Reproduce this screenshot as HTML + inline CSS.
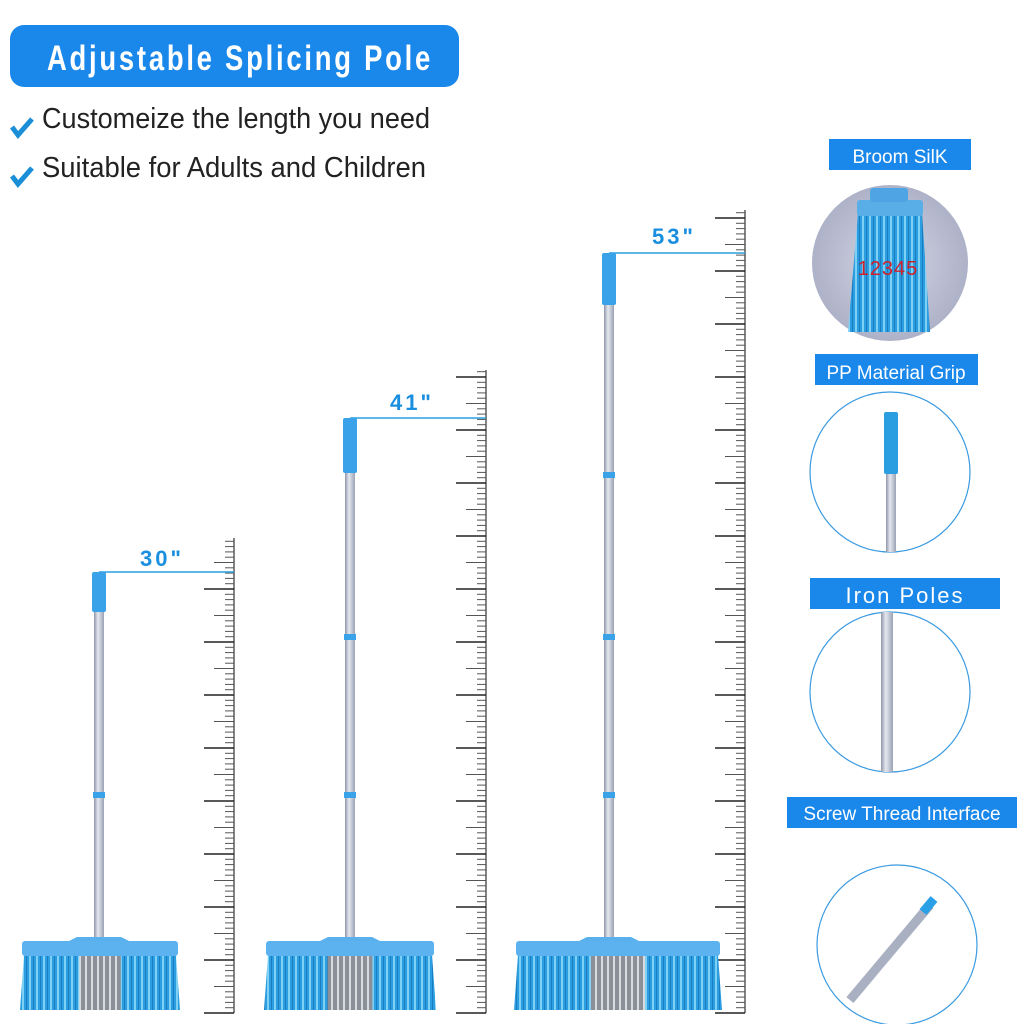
<!DOCTYPE html>
<html><head><meta charset="utf-8"><style>
body{margin:0;background:#fff;}
svg{display:block;}
text{font-family:"Liberation Sans",sans-serif;}
</style></head><body>
<svg id="s" width="1024" height="1024" viewBox="0 0 1024 1024" xmlns="http://www.w3.org/2000/svg">
<defs>
<linearGradient id="pole" x1="0" x2="1"><stop offset="0" stop-color="#8f96a8"/><stop offset="0.4" stop-color="#e4e8f0"/><stop offset="1" stop-color="#9aa2b4"/></linearGradient>
<pattern id="br" width="7" height="60" patternUnits="userSpaceOnUse"><rect width="7" height="60" fill="#2a9ee0"/><rect x="1" width="2" height="60" fill="#7fd0f5"/><rect x="5" width="1" height="60" fill="#1b7cc0"/></pattern>
<pattern id="bg" width="6" height="60" patternUnits="userSpaceOnUse"><rect width="6" height="60" fill="#8a8f98"/><rect x="1" width="2" height="60" fill="#d8dbe0"/></pattern>
<radialGradient id="c1"><stop offset="0" stop-color="#d4d6e4"/><stop offset="1" stop-color="#aeb2c8"/></radialGradient>
</defs>
<!-- header -->
<rect x="10" y="25" width="449" height="62" rx="14" fill="#1a87ea"/>
<text x="240" y="70" text-anchor="middle" font-size="35" font-weight="bold" fill="#fff" letter-spacing="3.5" textLength="386" lengthAdjust="spacingAndGlyphs">Adjustable Splicing Pole</text>
<path d="M12 127 l6 8 l14 -16" stroke="#1a8fd8" stroke-width="5" fill="none"/>
<path d="M12 176 l6 8 l14 -16" stroke="#1a8fd8" stroke-width="5" fill="none"/>
<text x="42" y="128" font-size="29" fill="#222" textLength="388" lengthAdjust="spacingAndGlyphs">Customeize the length you need</text>
<text x="42" y="177" font-size="29" fill="#222" textLength="384" lengthAdjust="spacingAndGlyphs">Suitable for Adults and Children</text>
<g id="rulers"></g>
<g id="brooms"></g>
<!-- right column -->
<rect x="829" y="139" width="142" height="31" fill="#1a87ea"/>
<text x="900" y="163" text-anchor="middle" font-size="19" fill="#fff">Broom SilK</text>
<circle cx="890" cy="263" r="78" fill="url(#c1)"/>
<path d="M858 213 L922 213 L930 332 L848 332 Z" fill="url(#br)"/>
<rect x="857" y="200" width="66" height="16" rx="3" fill="#5aaee8"/>
<rect x="870" y="188" width="38" height="14" rx="3" fill="#4fa4e4"/>
<text x="888" y="275" text-anchor="middle" font-size="20" fill="#d0202a" letter-spacing="1">12345</text>
<rect x="815" y="354" width="163" height="31" fill="#1a87ea"/>
<text x="896" y="379" text-anchor="middle" font-size="19" fill="#fff">PP Material Grip</text>
<circle cx="890" cy="472" r="80" fill="none" stroke="#3a9ae0" stroke-width="1.2"/>
<rect x="886" y="470" width="10" height="82" fill="url(#pole)"/>
<rect x="884" y="412" width="14" height="62" rx="2" fill="#2a9ee0"/>
<rect x="810" y="578" width="190" height="31" fill="#1a87ea"/>
<text x="905" y="603" text-anchor="middle" font-size="22" fill="#fff" letter-spacing="2">Iron Poles</text>
<circle cx="890" cy="692" r="80" fill="none" stroke="#3a9ae0" stroke-width="1.2"/>
<rect x="881" y="612" width="12" height="160" fill="url(#pole)"/>
<rect x="787" y="797" width="230" height="31" fill="#1a87ea"/>
<text x="902" y="820" text-anchor="middle" font-size="19" fill="#fff">Screw Thread Interface</text>
<circle cx="897" cy="945" r="80" fill="none" stroke="#3a9ae0" stroke-width="1.2"/>
<path d="M850 1000 L930 905" stroke="url(#pole)" stroke-width="9"/>
<path d="M850 1000 L928 907" stroke="#a8b0c2" stroke-width="9"/>
<path d="M923 912 L934 899" stroke="#2aa0e6" stroke-width="9"/>
</svg>
<script>
var NS="http://www.w3.org/2000/svg";
function el(p,t,a){var e=document.createElementNS(NS,t);for(var k in a)e.setAttribute(k,a[k]);p.appendChild(e);return e;}
var R=document.getElementById('rulers');
[[234,538],[486,370],[745,210]].forEach(function(r){
 var x=r[0],top=r[1];
 el(R,'line',{x1:x,y1:top,x2:x,y2:1013,stroke:'#333','stroke-width':1.2});
 for(var i=0;;i++){var y=1013-i*5.3;if(y<top)break;var L=i%10==0?30:(i%5==0?20:9);
  el(R,'line',{x1:x-L,y1:y,x2:x,y2:y,stroke:i%10==0?'#222':'#555','stroke-width':i%10==0?1.6:1});}
});
var B=document.getElementById('brooms');
var br=[{x:99,cap:572,capH:40,rings:[795],hx:20,hw:160,lx:140,ly:566,lab:'30"'},
{x:350,cap:418,capH:55,rings:[637,795],hx:264,hw:172,lx:390,ly:410,lab:'41"'},
{x:609,cap:253,capH:52,rings:[475,637,795],hx:514,hw:208,lx:652,ly:244,lab:'53"'}];
var rx=[234,486,745];
br.forEach(function(b,k){
 el(B,'line',{x1:b.x,y1:b.cap,x2:rx[k],y2:b.cap,stroke:'#2a9ee0','stroke-width':1.6});
 var t=el(B,'text',{x:b.lx,y:b.ly,'font-size':22,'font-weight':'bold',fill:'#1a8fe0','letter-spacing':3});t.textContent=b.lab;
 el(B,'rect',{x:b.x-5,y:b.cap,width:10,height:940-b.cap,fill:'url(#pole)'});
 el(B,'rect',{x:b.x-7,y:b.cap,width:14,height:b.capH,rx:2,fill:'#3aa2e8'});
 b.rings.forEach(function(y){el(B,'rect',{x:b.x-6,y:y-3,width:12,height:6,fill:'#3aa2e8'});});
 var hx=b.hx,hw=b.hw;
 el(B,'path',{d:'M'+(hx+4)+' 955 L'+(hx+hw-4)+' 955 L'+(hx+hw)+' 1010 L'+hx+' 1010 Z',fill:'url(#br)'});
 el(B,'rect',{x:hx+hw*0.37,y:955,width:hw*0.26,height:55,fill:'url(#bg)'});
 el(B,'path',{d:'M'+(b.x-22)+' 937 L'+(b.x+22)+' 937 L'+(b.x+34)+' 943 L'+(b.x-34)+' 943 Z',fill:'#5ab0ec'});
 el(B,'rect',{x:hx+2,y:941,width:hw-4,height:15,rx:3,fill:'#5cb2ee'});
});
</script>
</body></html>
